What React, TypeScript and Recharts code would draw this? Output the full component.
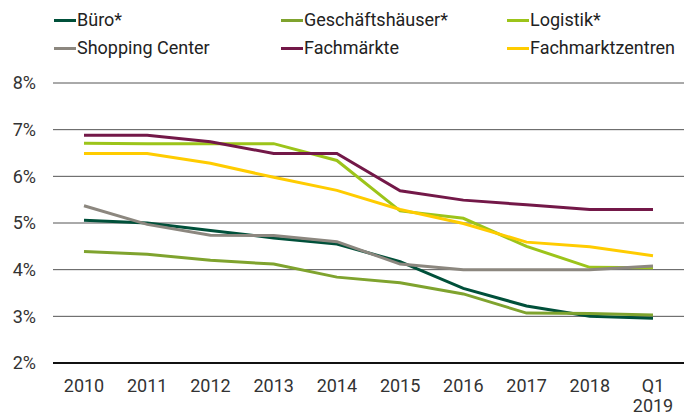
import React from "react";
import { LineChart, Line, XAxis, YAxis, CartesianGrid } from "recharts";

const categories = ["2010", "2011", "2012", "2013", "2014", "2015", "2016", "2017", "2018", "Q1\n2019"];
const buero = [5.06, 5.0, 4.84, 4.68, 4.55, 4.17, 3.6, 3.22, 3.0, 2.96];
const geschaeftshaeuser = [4.39, 4.33, 4.2, 4.12, 3.84, 3.72, 3.48, 3.07, 3.06, 3.03];
const logistik = [6.71, 6.7, 6.7, 6.7, 6.34, 5.26, 5.1, 4.5, 4.05, 4.04];
const shoppingCenter = [5.37, 4.97, 4.74, 4.73, 4.6, 4.12, 4.0, 4.0, 4.0, 4.08];
const fachmaerkte = [6.88, 6.88, 6.74, 6.49, 6.49, 5.69, 5.49, 5.39, 5.29, 5.29];
const fachmarktzentren = [6.49, 6.49, 6.28, 5.98, 5.7, 5.29, 4.99, 4.59, 4.49, 4.3];
const yTicks = [2, 3, 4, 5, 6, 7, 8];

const series = [
  { key: "buero", name: "Büro*", color: "#00503a", values: buero },
  { key: "gesch", name: "Geschäftshäuser*", color: "#7fa32e", values: geschaeftshaeuser },
  { key: "logistik", name: "Logistik*", color: "#9cc41a", values: logistik },
  { key: "shopping", name: "Shopping Center", color: "#8c877f", values: shoppingCenter },
  { key: "fm", name: "Fachmärkte", color: "#731848", values: fachmaerkte },
  { key: "fmz", name: "Fachmarktzentren", color: "#ffcc00", values: fachmarktzentren },
];

const data = categories.map((c, i) => {
  const row: Record<string, any> = { cat: c };
  series.forEach((s) => (row[s.key] = s.values[i]));
  return row;
});

const FONT = "Roboto, 'Liberation Sans', sans-serif";

const XTick = (props: any) => {
  const { x, y, payload } = props;
  const lines = String(payload.value).split("\n");
  return (
    <text x={x} y={y} textAnchor="middle" fill="#333" fontSize={18} fontFamily={FONT}>
      {lines.map((l, i) => (
        <tspan key={i} x={x} dy={i === 0 ? 13 : 20}>
          {l}
        </tspan>
      ))}
    </text>
  );
};

const legendCols = [54, 281, 507];
const legendRows = [20, 48];

export default function App() {
  return (
    <div style={{ position: "absolute", left: 0, top: 0, width: 684, height: 418, overflow: "hidden", background: "#fff" }}>
      <div
        style={{
          position: "absolute",
          left: 14,
          top: -25,
          fontFamily: FONT,
          fontSize: 22,
          lineHeight: "22px",
          color: "#00503a",
          whiteSpace: "nowrap",
        }}
      >
        Entwicklung der Spitzenrenditen (netto)
      </div>
      {series.map((s, i) => {
        const cx = legendCols[i % 3];
        const cy = legendRows[Math.floor(i / 3)];
        return (
          <div key={s.key}>
            <div style={{ position: "absolute", left: cx, top: cy - 1.5, width: 22, height: 3, background: s.color }} />
            <div
              style={{
                position: "absolute",
                left: cx + 23,
                top: cy - 11,
                fontFamily: FONT,
                fontSize: 18,
                lineHeight: "22px",
                color: "#222",
                whiteSpace: "nowrap",
              }}
            >
              {s.name}
            </div>
          </div>
        );
      })}
      <div style={{ position: "absolute", left: 0, top: 0 }}>
        <LineChart width={684} height={418} data={data} margin={{ top: 83, right: 0, bottom: 0, left: 0 }}>
          <CartesianGrid vertical={false} stroke="#555" strokeWidth={1} />
          <XAxis
            dataKey="cat"
            interval={0}
            height={55}
            padding={{ left: 31, right: 31 }}
            tickLine={false}
            tickSize={0}
            tickMargin={16}
            axisLine={{ stroke: "#111", strokeWidth: 2 }}
            tick={<XTick />}
          />
          <YAxis
            domain={[2, 8]}
            ticks={yTicks}
            width={53}
            axisLine={false}
            tickLine={false}
            tickSize={0}
            tickMargin={17}
            tickFormatter={(v: number) => `${v}%`}
            tick={{ fill: "#333", fontSize: 18, fontFamily: FONT }}
          />
          {series.map((s) => (
            <Line
              key={s.key}
              dataKey={s.key}
              name={s.name}
              stroke={s.color}
              strokeWidth={3}
              dot={false}
              activeDot={false}
              isAnimationActive={false}
            />
          ))}
        </LineChart>
      </div>
    </div>
  );
}
